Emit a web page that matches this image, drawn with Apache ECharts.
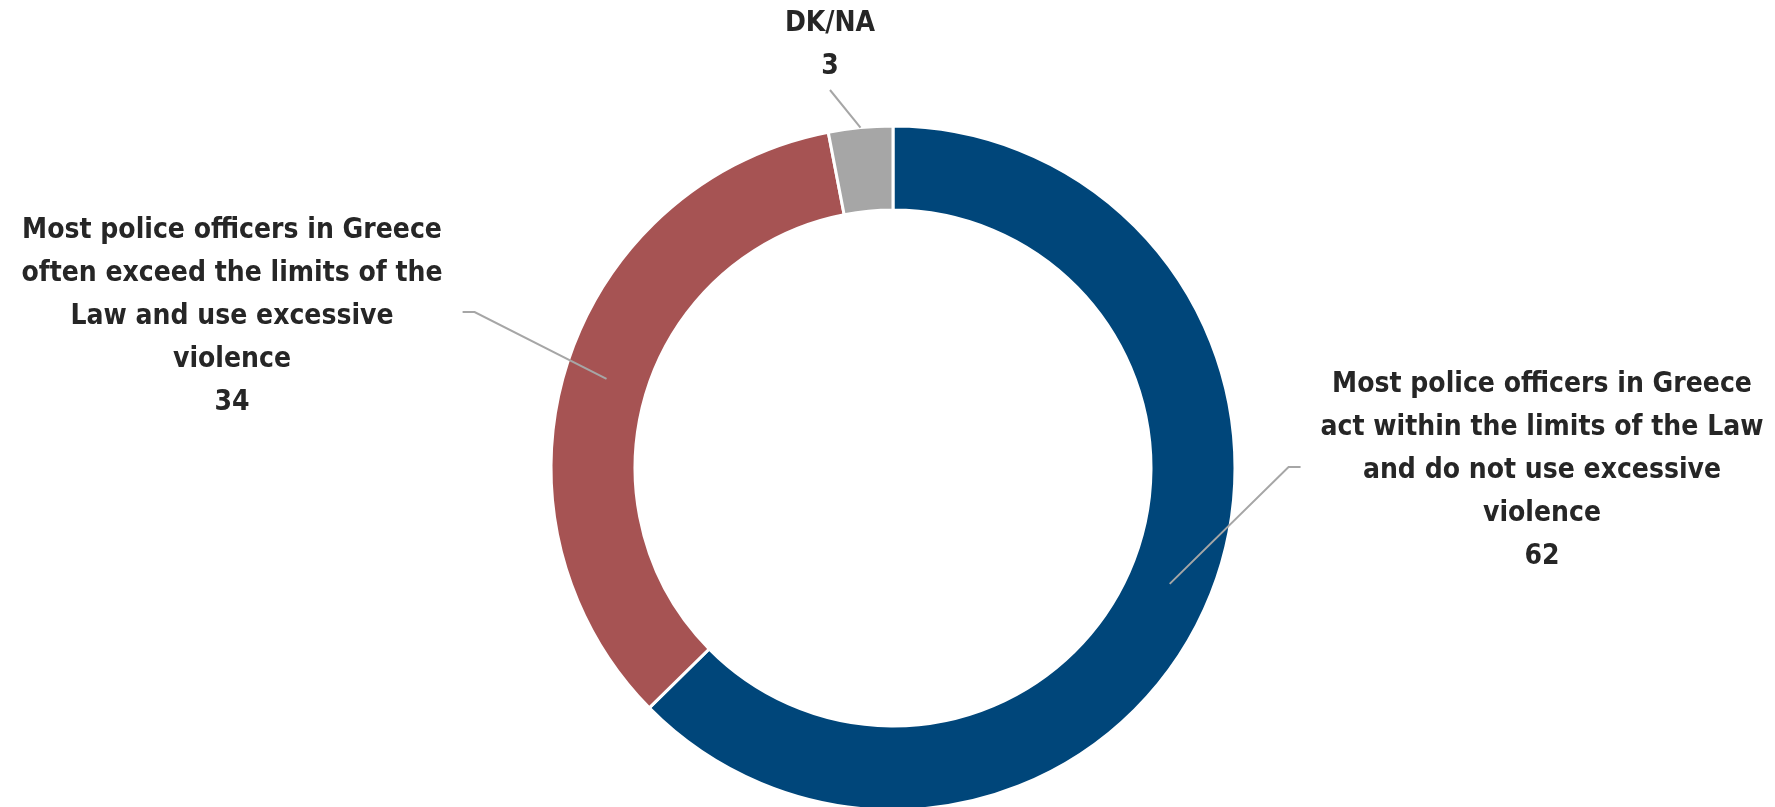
<!DOCTYPE html>
<html>
<head>
<meta charset="utf-8">
<script src="https://cdn.jsdelivr.net/npm/echarts@6/dist/echarts.min.js"></script>
<style>
  html, body { margin: 0; padding: 0; background: #fff; }
  #main { width: 1775px; height: 807px; }
</style>
</head>
<body>
<div id="main"></div>
<script>
const categories = [
  "Most police officers in Greece\nact within the limits of the Law\nand do not use excessive\nviolence",
  "Most police officers in Greece\noften exceed the limits of the\nLaw and use excessive\nviolence",
  "DK/NA"
];
const values = [62, 34, 3];
const colors = ["#00467a", "#a65353", "#a6a6a6"];

const center = [893, 468];
const radius = [258, 342];
// centre of each label block
const labelPos = [[1542, 471], [232, 317], [830, 45]];
// radius where each leader line ends on the ring
const lineEndR = [300, 300, 342];

const chart = echarts.init(document.getElementById("main"));

// leader lines have to sit on top of the ring, so the labels live in a
// second, see-through copy of the pie drawn above the coloured one
chart.setOption({
  animation: false,
  series: [
    {
      type: "pie",
      center: center,
      radius: radius,
      startAngle: 90,
      z: 2,
      silent: true,
      emphasis: { disabled: true },
      itemStyle: { borderColor: "#fff", borderWidth: 3 },
      label: { show: false },
      labelLine: { show: false },
      data: categories.map((name, i) => ({
        name: name,
        value: values[i],
        itemStyle: { color: colors[i] }
      }))
    },
    {
      type: "pie",
      center: center,
      radius: radius,
      startAngle: 90,
      z: 3,
      silent: true,
      avoidLabelOverlap: false,
      emphasis: { disabled: true },
      itemStyle: { color: "rgba(0,0,0,0)", borderWidth: 0 },
      label: {
        show: true,
        position: "outside",
        formatter: "{b}\n{c}",
        fontFamily: '"Liberation Sans Narrow", "Arial Narrow", "DejaVu Sans Condensed", sans-serif',
        fontWeight: "bold",
        fontSize: 28,
        lineHeight: 43,
        color: "#262626"
      },
      labelLine: {
        show: true,
        length: 10,
        length2: 10,
        lineStyle: { color: "#a6a6a6", width: 2 }
      },
      labelLayout: function (params) {
        const i = params.dataIndex;
        const x = labelPos[i][0], y = labelPos[i][1];
        const w = params.labelRect.width, h = params.labelRect.height;
        // direction of the slice middle, taken from the default leader line
        const p0 = params.labelLinePoints[0];
        const dx = p0[0] - center[0], dy = p0[1] - center[1];
        const len = Math.sqrt(dx * dx + dy * dy);
        const start = [center[0] + dx / len * lineEndR[i], center[1] + dy / len * lineEndR[i]];
        let end, knee;
        if (i === 2) {
          end = [x, y + h / 2 + 2];
          knee = end;
        } else if (x < center[0]) {
          end = [x + w / 2 + 20, y - 5];
          knee = [end[0] + 12, end[1]];
        } else {
          end = [x - w / 2 - 20, y - 4];
          knee = [end[0] - 12, end[1]];
        }
        return {
          x: x, y: y,
          align: "center",
          verticalAlign: "middle",
          labelLinePoints: [start, knee, end]
        };
      },
      data: categories.map((name, i) => ({ name: name, value: values[i] }))
    }
  ]
});
</script>
</body>
</html>
